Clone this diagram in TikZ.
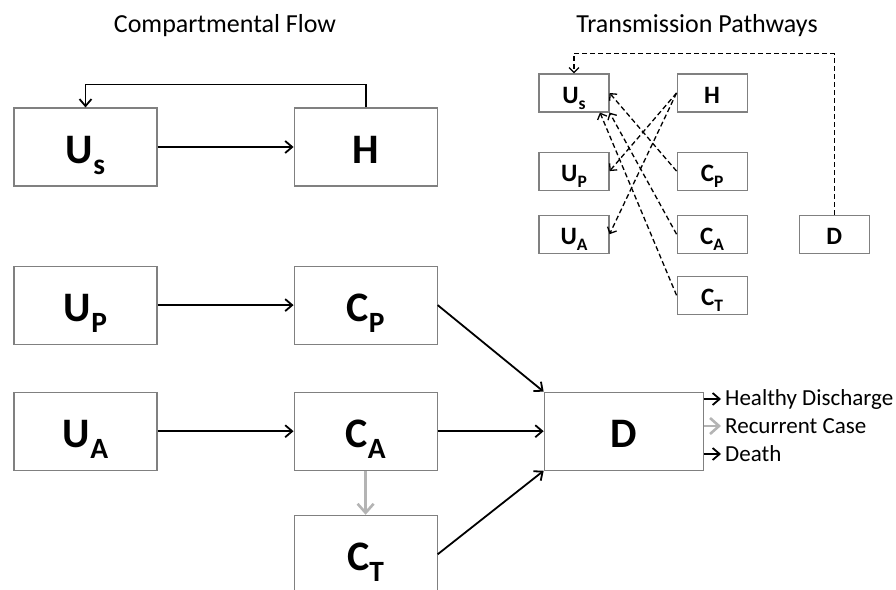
\documentclass[tikz,border=0pt]{standalone}
\usepackage{fontspec}
\setmainfont{Carlito}
\usetikzlibrary{positioning}
\usetikzlibrary{arrows.meta}
\definecolor{boxgray}{HTML}{808080}
\definecolor{flowgray}{HTML}{B4B4B4}
\tikzset{
  % big compartment boxes
  comp/.style={draw=boxgray, line width=1.1pt, minimum width=143pt, minimum height=78pt,
    inner sep=0pt, text height=33pt, text depth=0pt,
    font=\fontsize{42}{42}\selectfont\bfseries},
  % small boxes for the pathways
  mini/.style={draw=boxgray, line width=1.1pt, minimum width=70pt, minimum height=38pt,
    inner sep=0pt, text height=20pt, text depth=0pt,
    font=\fontsize{25}{25}\selectfont\bfseries},
  % transitions
  flow/.style={-{Straight Barb[length=7pt, width=12pt]}, line width=1.8pt},
  back/.style={-{Straight Barb[length=9pt, width=16pt]}, line width=2.6pt, flowgray},
  % transmission
  spread/.style={-{Straight Barb[length=5pt, width=10pt]}, line width=1.3pt,
    dash pattern=on 5pt off 3pt},
  title/.style={anchor=base, font=\fontsize{26}{26}\selectfont},
  outcome/.style={anchor=west, inner sep=0pt, font=\fontsize{23}{23}\selectfont},
}
\newcommand{\cmp}[2]{#1\raisebox{-.25em}{\scalebox{.7}{#2}}}

\begin{document}
\begin{tikzpicture}[x=1pt, y=-1pt]
  \useasboundingbox (0,0) rectangle (896,589);

  % compartmental flow
  \node[title] (flowtitle) at (225,32) {Compartmental Flow};
  \node[comp] (Us) at (85.5,147) {\cmp{U}{s}};
  \node[comp] (H) [right=136pt of Us] {H};
  \node[comp] (Up) [below=79pt of Us] {\cmp{U}{P}};
  \node[comp] (Cp) [right=136pt of Up] {\cmp{C}{P}};
  \node[comp] (Ua) [below=47pt of Up] {\cmp{U}{A}};
  \node[comp] (Ca) [right=136pt of Ua] {\cmp{C}{A}};
  \node[comp] (Ct) [below=44pt of Ca] {\cmp{C}{T}};
  \node[comp, minimum width=159pt] (D) [right=106pt of Ca] {D};

  \draw[flow] (Us) -- (H);
  \draw[flow] (H.north) -- ++(0,-23) -| (Us.north);
  \draw[flow] (Up) -- (Cp);
  \draw[flow] (Ua) -- (Ca);
  \draw[back] (Ca) -- (Ct);
  \draw[flow] (Cp.east) -- (D.north west);
  \draw[flow] (Ca) -- (D);
  \draw[flow] (Ct.east) -- (D.south west);

  % outcomes of D
  \node[outcome] (hd) at (725,399) {Healthy Discharge};
  \node[outcome] (rc) at (725,426) {Recurrent Case};
  \node[outcome] (dt) at (725,454) {Death};
  \draw[flow] (D.east |- hd) -- ([xshift=-4pt]hd.west);
  \draw[back] (D.east |- rc) -- ([xshift=-4pt]rc.west);
  \draw[flow] (D.east |- dt) -- ([xshift=-4pt]dt.west);

  % transmission pathways
  \node[title] (pathtitle) at (697,32) {Transmission Pathways};
  \node[mini] (us) at (574,93) {\cmp{U}{s}};
  \node[mini] (h) [right=67pt of us] {H};
  \node[mini] (up) [below=39pt of us] {\cmp{U}{P}};
  \node[mini] (cp) [right=67pt of up] {\cmp{C}{P}};
  \node[mini] (ua) [below=24pt of up] {\cmp{U}{A}};
  \node[mini] (ca) [right=67pt of ua] {\cmp{C}{A}};
  \node[mini] (ct) [below=22pt of ca] {\cmp{C}{T}};
  \node[mini] (d) [right=51pt of ca] {D};

  \draw[spread] (h.west) -- (up.east);
  \draw[spread] (h.west) -- (ua.east);
  \draw[spread] (cp.west) -- (us.east);
  \draw[spread] (ca.west) -- (us.south east);
  \draw[spread] (ct.west) -- (us.-37);
  \draw[spread] (d.north) -- ++(0,-161) -| (us.north);
\end{tikzpicture}
\end{document}
